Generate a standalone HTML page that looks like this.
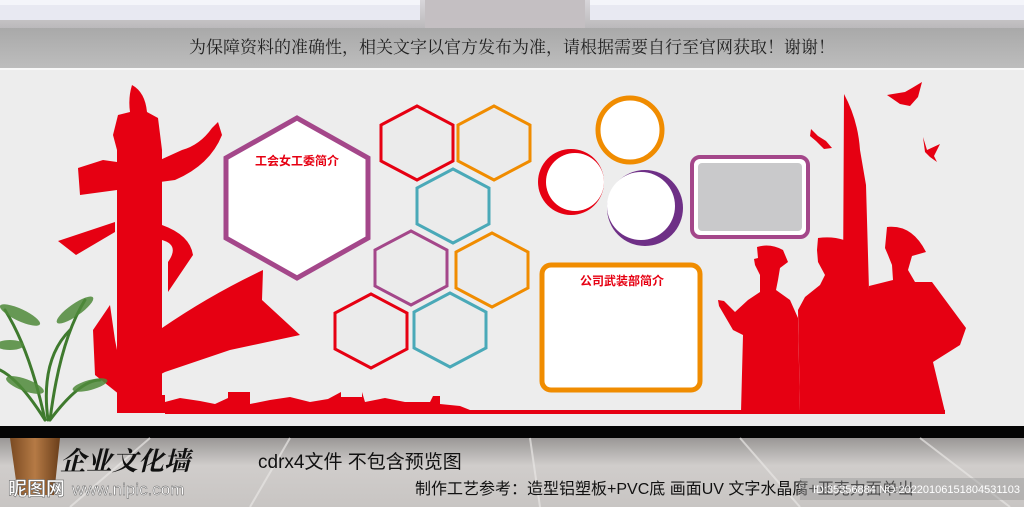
<!DOCTYPE html>
<html><head><meta charset="utf-8"><style>
html,body{margin:0;padding:0;width:1024px;height:507px;overflow:hidden;background:#ddd}
svg{display:block}
text{font-family:"Liberation Sans","Noto Sans CJK SC",sans-serif}
</style></head><body>
<svg width="1024" height="507" viewBox="0 0 1024 507" xmlns="http://www.w3.org/2000/svg">
<defs>
<linearGradient id="ceil" x1="0" y1="0" x2="0" y2="1"><stop offset="0" stop-color="#d8d6da"/><stop offset="1" stop-color="#b9b7b9"/></linearGradient>
<linearGradient id="band" x1="0" y1="0" x2="0" y2="1"><stop offset="0" stop-color="#a9a9a9"/><stop offset="1" stop-color="#bdbdbd"/></linearGradient>
<linearGradient id="floor" x1="0" y1="0" x2="0" y2="1"><stop offset="0" stop-color="#9a9796"/><stop offset="0.4" stop-color="#d0cdcb"/><stop offset="1" stop-color="#c8c5c3"/></linearGradient>
<linearGradient id="pot" x1="0" y1="0" x2="1" y2="0"><stop offset="0" stop-color="#7a4a22"/><stop offset="0.5" stop-color="#b57a45"/><stop offset="1" stop-color="#6a3e1a"/></linearGradient>
</defs>
<!-- ceiling -->
<rect x="0" y="0" width="1024" height="30" fill="url(#ceil)"/>
<rect x="0" y="0" width="420" height="20" fill="#f4f5fa"/>
<rect x="0" y="5" width="420" height="15" fill="#e8e9f2"/>
<rect x="590" y="0" width="434" height="20" fill="#f4f5fa"/>
<rect x="590" y="5" width="434" height="15" fill="#e8e9f2"/>
<rect x="425" y="0" width="160" height="28" fill="#c4bfc2"/>
<rect x="0" y="28" width="1024" height="40" fill="url(#band)"/>
<text x="512" y="53" font-size="17" fill="#222" text-anchor="middle" font-family="Liberation Serif,Noto Serif CJK SC,serif" style="font-family:'Liberation Serif','Noto Serif CJK SC',serif">为保障资料的准确性，相关文字以官方发布为准，请根据需要自行至官网获取！谢谢！</text>
<!-- wall -->
<rect x="0" y="68" width="1024" height="358" fill="#ededed"/>
<rect x="0" y="68" width="1024" height="2" fill="#f8f8f8"/>
<!-- black band & floor -->
<rect x="0" y="426" width="1024" height="12" fill="#050505"/>
<rect x="0" y="438" width="1024" height="69" fill="url(#floor)"/>
<g stroke="#e8e6e4" stroke-width="2" opacity="0.7">
<line x1="150" y1="438" x2="70" y2="507"/><line x1="290" y1="438" x2="250" y2="507"/><line x1="530" y1="438" x2="540" y2="507"/><line x1="740" y1="438" x2="800" y2="507"/><line x1="920" y1="438" x2="1010" y2="507"/>
</g>

<!-- left red huabiao -->
<g fill="#e60012">
<path d="M132,85 Q145,92 147,112 L158,118 L162,150 L162,410 L117,412 L117,190 L80,195 L78,168 L103,160 L117,162 L117,150 L113,135 L118,115 L130,112 Q128,98 132,85Z"/>
<path d="M160,160 L182,150 Q200,145 212,128 L218,122 L222,135 Q210,165 175,180 L160,182Z"/>
<path d="M58,241 L115,222 L115,232 L76,255Z"/>
<path d="M162,225 Q190,235 193,255 L168,292 L168,262 Q180,245 162,240Z"/>
<path d="M162,328 Q210,295 263,270 L262,300 L300,335 L230,350 L165,372 L120,395 L95,375 L93,330 L110,305 L115,340 L117,350Z"/>
<path d="M117,395 L165,395 L165,413 L117,413Z"/>
<!-- great wall -->
<path d="M165,413 L165,402 L180,398 L200,401 L215,404 L228,398 L228,392 L250,392 L250,404 L270,400 L290,397 L310,402 L328,399 L341,392 L341,397 L362,397 L362,392 L365,402 L385,398 L405,402 L430,402 L433,396 L440,396 L440,404 L460,406 L470,410 L470,413Z"/>
<rect x="165" y="410" width="780" height="4"/>
</g>

<!-- right soldiers -->
<g fill="#e60012">
<path d="M844,94 Q858,120 860,150 L866,185 L869,290 L843,290 Z"/>
<path d="M757,247 Q770,243 783,250 L788,262 L780,268 L778,280 L776,290 L790,300 L798,318 L800,412 L741,412 L743,335 L733,330 L719,306 L718,300 L724,301 L735,312 L748,300 L760,292 L760,275 L755,265 L754,259 L758,258Z"/>
<path d="M818,238 Q832,236 844,240 L848,272 L843,288 L869,290 L869,412 L800,412 L798,310 L805,297 L820,285 L825,275 L818,262 L817,250Z"/>
<path d="M887,227 Q912,224 926,252 L912,256 L908,270 L915,282 L932,282 L966,328 L960,345 L933,362 L945,412 L869,412 L869,286 L893,280 L892,265 L888,255 L885,248Z"/>
<path d="M887,95 L905,92 L912,88 L922,82 L918,97 L910,106 L900,104 Z"/>
<path d="M811,129 L818,136 L826,141 L832,148 L824,149 L816,141 L810,136Z"/>
<path d="M923,137 L927,150 L940,144 L934,156 L937,162 L930,157 L925,152Z"/>
</g>

<!-- big hex -->
<polygon points="297,118 368,158 368,238 297,278 226,238 226,158" fill="#fff" stroke="#a4478a" stroke-width="5"/>
<text x="297" y="165" font-size="12" font-weight="bold" fill="#e60012" text-anchor="middle">工会女工委简介</text>

<!-- small hexes -->
<g stroke-width="3" fill="#ebebeb">
<polygon transform="translate(417,143)" points="0,-37 36,-18 36,18 0,37 -36,18 -36,-18" stroke="#e60012"/>
<polygon transform="translate(494,143)" points="0,-37 36,-18 36,18 0,37 -36,18 -36,-18" stroke="#f08c00"/>
<polygon transform="translate(453,206)" points="0,-37 36,-18 36,18 0,37 -36,18 -36,-18" stroke="#4aa9b8"/>
<polygon transform="translate(411,268)" points="0,-37 36,-18 36,18 0,37 -36,18 -36,-18" stroke="#a4478a"/>
<polygon transform="translate(492,270)" points="0,-37 36,-18 36,18 0,37 -36,18 -36,-18" stroke="#f08c00"/>
<polygon transform="translate(371,331)" points="0,-37 36,-18 36,18 0,37 -36,18 -36,-18" stroke="#e60012"/>
<polygon transform="translate(450,330)" points="0,-37 36,-18 36,18 0,37 -36,18 -36,-18" stroke="#4aa9b8"/>
</g>

<!-- circles -->
<circle cx="630" cy="130" r="32" fill="#fff" stroke="#f08c00" stroke-width="5"/>
<circle cx="630" cy="130" r="28" fill="#fff"/>
<circle cx="571" cy="182" r="33" fill="#e60012"/>
<circle cx="575" cy="182" r="29" fill="#fff"/>
<circle cx="645" cy="208" r="38" fill="#6e2f86"/>
<circle cx="641" cy="206" r="34" fill="#fff"/>

<!-- rounded rects -->
<rect x="692" y="157" width="116" height="80" rx="8" fill="#fff" stroke="#a4478a" stroke-width="4"/>
<rect x="698" y="163" width="104" height="68" rx="4" fill="#c9c9cb"/>
<rect x="542" y="265" width="158" height="125" rx="9" fill="#fff" stroke="#f08c00" stroke-width="5"/>
<text x="622" y="285" font-size="12" font-weight="bold" fill="#e60012" text-anchor="middle">公司武装部简介</text>

<!-- plant -->
<g stroke="#3f7a2e" stroke-width="3" fill="none" stroke-linecap="round">
<path d="M45,420 Q30,350 5,310"/><path d="M50,420 Q60,340 85,300"/><path d="M48,420 Q40,360 70,330"/>
<path d="M45,420 Q20,380 0,370"/><path d="M50,420 Q80,380 100,380"/>
</g>
<g fill="#4f8a3a" opacity="0.85">
<ellipse cx="20" cy="315" rx="22" ry="6" transform="rotate(25 20 315)"/>
<ellipse cx="75" cy="310" rx="22" ry="6" transform="rotate(-35 75 310)"/>
<ellipse cx="10" cy="345" rx="14" ry="5"/>
<ellipse cx="25" cy="385" rx="20" ry="6" transform="rotate(20 25 385)"/>
<ellipse cx="90" cy="385" rx="18" ry="5" transform="rotate(-15 90 385)"/>
</g>
<path d="M10,438 L60,438 L54,495 L18,495Z" fill="url(#pot)"/>

<!-- bottom texts -->
<text x="60" y="470" font-size="26" font-weight="bold" fill="#111" font-style="italic" style="font-family:'Liberation Serif','Noto Serif CJK SC',serif">企业文化墙</text>
<text x="258" y="468" font-size="19" fill="#111">cdrx4文件 不包含预览图</text>
<text x="415" y="494" font-size="16" fill="#111">制作工艺参考：造型铝塑板+PVC底 画面UV 文字水晶腐+亚克力面单出</text>
<rect x="800" y="478" width="224" height="22" fill="#9a9a9a" opacity="0.45"/>
<text x="1020" y="493" font-size="11" fill="#fff" text-anchor="end">ID:35356884 NO:20220106151804531103</text>
<text x="8" y="495" font-size="19" font-weight="bold" fill="#fff" stroke="#555" stroke-width="0.5">昵图网</text>
<text x="72" y="495" font-size="17" fill="#fff" stroke="#555" stroke-width="0.4">www.nipic.com</text>
</svg>
</body></html>
